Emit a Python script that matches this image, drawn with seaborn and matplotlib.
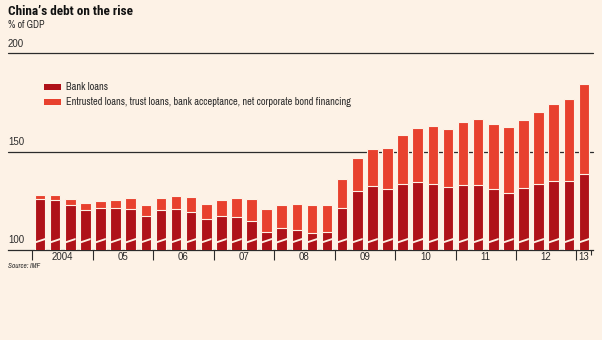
import matplotlib
matplotlib.use("Agg")
import matplotlib.pyplot as plt
import matplotlib.transforms as mtransforms
from matplotlib.patches import Patch
import seaborn as sns
import pandas as pd

# ---------------- data ----------------
years = ["2004", "05", "06", "07", "08", "09", "10", "11", "12", "13"]
quarters = [f"{2004 + i // 4}Q{i % 4 + 1}" for i in range(37)]
bank_loans = [126.1, 125.4, 122.7, 120.4, 121.1, 121.6, 120.7, 117.5,
              120.4, 120.6, 119.2, 115.7, 117.3, 117.0, 114.8, 109.2,
              111.0, 110.0, 108.6, 108.9, 121.6, 130.0, 132.3, 130.8,
              133.8, 134.5, 133.8, 132.2, 133.2, 132.8, 131.2, 129.1,
              131.5, 133.8, 135.2, 135.2, 138.5]
total_debt = [127.8, 128.1, 126.1, 123.9, 124.7, 125.3, 126.4, 122.7,
              126.6, 127.3, 126.8, 123.6, 125.4, 126.3, 125.8, 120.9,
              123.1, 123.6, 123.1, 122.9, 136.2, 146.6, 151.4, 152.0,
              158.6, 162.0, 162.8, 161.6, 165.3, 166.5, 164.0, 162.3,
              166.2, 170.1, 174.2, 176.6, 184.3]
y_ticks = [100, 150, 200]
series_labels = ["Bank loans",
                 "Entrusted loans, trust loans, bank acceptance, net corporate bond financing"]

df = pd.DataFrame({"quarter": quarters, "bank": bank_loans, "total": total_debt})

# ---------------- style ----------------
BG = "#FDF2E6"
DARK = "#AF1219"
LIGHT = "#E8412E"
INK = "#2B2B2B"

sns.set_theme(style="white")
NARROW = ["Archivo Narrow", "Roboto Condensed", "PT Sans Narrow", "Liberation Sans", "DejaVu Sans"]
TITLE = ["Roboto Condensed", "Asap Condensed", "Liberation Sans", "DejaVu Sans"]
NUM = ["Liberation Sans", "DejaVu Sans"]
plt.rcParams["font.family"] = NARROW

W, H = 602, 340
fig = plt.figure(figsize=(W / 100, H / 100), dpi=100, facecolor=BG)
ax = fig.add_axes([8 / W, 1 - 250 / H, (593 - 8) / W, (250 - 53.3) / H])
ax.set_facecolor(BG)

sns.barplot(data=df, x="quarter", y="total", order=quarters, color=LIGHT,
            width=0.7, saturation=1, edgecolor=BG, linewidth=0.8, ax=ax, zorder=2)
sns.barplot(data=df, x="quarter", y="bank", order=quarters, color=DARK,
            width=0.7, saturation=1, edgecolor=BG, linewidth=0.8, ax=ax, zorder=3)

ax.set_xlim(-2.12, 36.6)
ax.set_ylim(y_ticks[0], y_ticks[-1])

# axis-break stripe across each bar
for p in ax.patches[len(quarters):]:
    x0, x1 = p.get_x(), p.get_x() + p.get_width()
    ax.fill([x0, x1, x1, x0], [103.3, 105.1, 106.1, 104.3], color=BG,
            lw=0, zorder=4)

# gridlines
for v in y_ticks[1:]:
    ax.axhline(v, color=INK, lw=0.9, zorder=1, clip_on=False)
for s in ["top", "right", "left"]:
    ax.spines[s].set_visible(False)
ax.spines["bottom"].set_color(INK)
ax.spines["bottom"].set_linewidth(0.9)

# y labels placed above gridlines
blend = mtransforms.blended_transform_factory(ax.transAxes, ax.transData)
ax.set_yticks([])
for v in y_ticks:
    ax.annotate(str(v), xy=(0, v), xycoords=blend, xytext=(0, 3.3),
                textcoords="offset points", ha="left", va="bottom",
                fontsize=7, color=INK, family=NUM)

# x ticks: boundaries (major) and year labels (minor)
bounds = [-0.5 + 4 * i for i in range(len(years))] + [len(quarters) - 0.5]
centers = [1.5 + 4 * i for i in range(len(years) - 1)] + [len(quarters) - 1]
ax.set_xticks(bounds)
ax.set_xticklabels([""] * len(bounds))
ax.set_xticks(centers, minor=True)
ax.set_xticklabels(years, minor=True, fontsize=7, color=INK, family=NUM)
ax.tick_params(axis="x", which="major", direction="out", length=7, width=0.8,
               color=INK, bottom=True)
ax.tick_params(axis="x", which="minor", length=0, pad=1.8, bottom=True)
ax.xaxis.get_major_ticks()[-1].tick1line.set_markersize(3.8)
ax.set_xlabel("")
ax.set_ylabel("")

# legend
handles = [Patch(facecolor=DARK, edgecolor="none"), Patch(facecolor=LIGHT, edgecolor="none")]
ax.legend(handles, series_labels, loc="upper left", bbox_to_anchor=(44 / W, 1 - 82.5 / H),
          bbox_transform=fig.transFigure, frameon=False, fontsize=7.45,
          handlelength=1.6, handleheight=0.5, handletextpad=0.5,
          labelspacing=0.48, borderpad=0, borderaxespad=0, labelcolor=INK)

# titles
fig.text(8 / W, 1 - 5 / H, "China\u2019s debt on the rise", ha="left", va="top",
         fontsize=9.5, fontweight="bold", color="#111111", family=TITLE)
fig.text(8 / W, 1 - 19.5 / H, "% of GDP", ha="left", va="top", fontsize=7.2, color=INK)
fig.text(7.5 / W, 1 - 263 / H, "Source: IMF", ha="left", va="top", fontsize=5.2,
         style="italic", color=INK)

fig.savefig("out.png", dpi=100, facecolor=BG)
